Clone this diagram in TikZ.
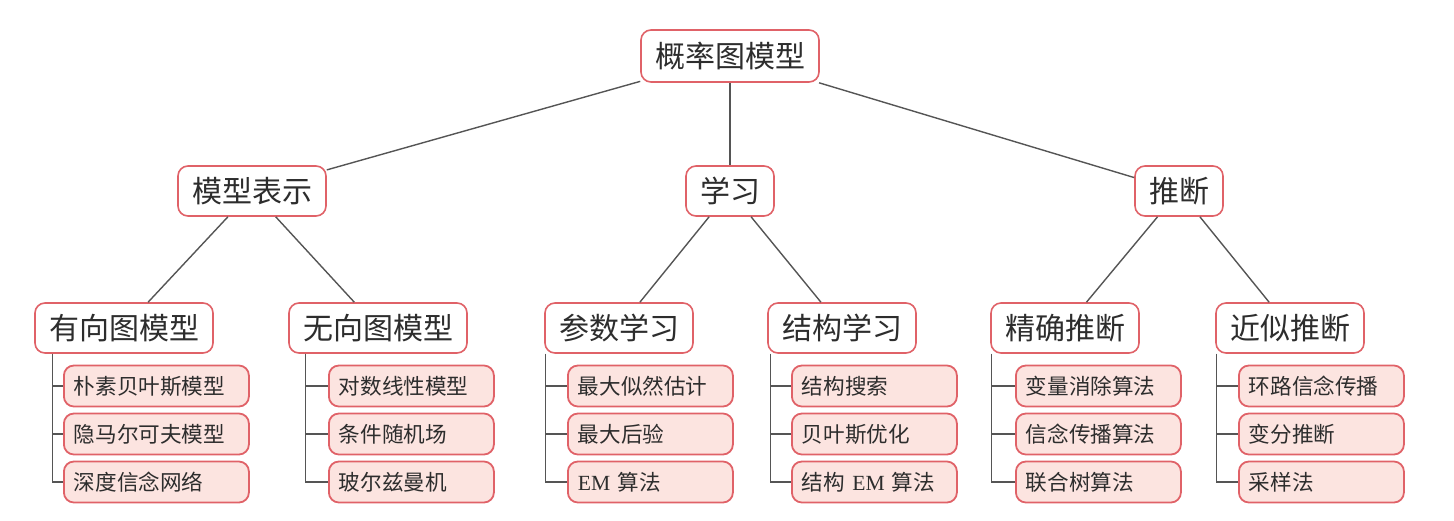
\documentclass[tikz,border=0pt]{standalone}
\usepackage{fontspec}
\newfontfamily\cjk{Noto Sans CJK SC}
\newfontfamily\latin{Liberation Serif}
\usetikzlibrary{positioning}
\definecolor{boxred}{RGB}{224,98,104}
\definecolor{leafpink}{RGB}{252,228,224}
\definecolor{textgray}{RGB}{45,45,45}
\definecolor{linegray}{RGB}{85,85,85}

\begin{document}
\begin{tikzpicture}[x=0.5pt,y=-0.5pt,
  topbox/.style={draw=boxred,line width=0.8pt,fill=white,rounded corners=5pt,inner xsep=7pt,minimum height=25pt,text=textgray,font=\cjk\fontsize{15}{18}\selectfont},
  leaf/.style={draw=boxred,line width=0.9pt,fill=leafpink,rounded corners=5pt,inner xsep=5pt,minimum height=20.5pt,text width=#1,align=left,anchor=west,text=textgray,font=\cjk\fontsize{10.8}{13}\selectfont},
  link/.style={draw=linegray,line width=0.7pt}]
\useasboundingbox (0,0) rectangle (1454,520);

\node[topbox,minimum height=26pt] (root) at (730,56) {概率图模型};
\node[topbox] (rep) at (252,191) {模型表示};
\node[topbox] (learn) at (730,191) {学习};
\node[topbox] (infer) at (1179,191) {推断};

\node[topbox] (dir) at (124,328) {有向图模型};
\node[topbox] (undir) at (378,328) {无向图模型};
\node[topbox] (param) at (619,328) {参数学习};
\node[topbox] (struct) at (842,328) {结构学习};
\node[topbox] (exact) at (1065,328) {精确推断};
\node[topbox] (approx) at (1290,328) {近似推断};

\node[leaf=82.5pt] (d1) at (63,386) {朴素贝叶斯模型};
\node[leaf=82.5pt] (d2) at (63,434) {隐马尔可夫模型};
\node[leaf=82.5pt] (d3) at (63,482) {深度信念网络};
\node[leaf=72.5pt] (u1) at (328,386) {对数线性模型};
\node[leaf=72.5pt] (u2) at (328,434) {条件随机场};
\node[leaf=72.5pt] (u3) at (328,482) {玻尔兹曼机};
\node[leaf=72.5pt] (p1) at (567,386) {最大似然估计};
\node[leaf=72.5pt] (p2) at (567,434) {最大后验};
\node[leaf=72.5pt] (p3) at (567,482) {{\latin EM} 算法};
\node[leaf=72.5pt] (s1) at (791,386) {结构搜索};
\node[leaf=72.5pt] (s2) at (791,434) {贝叶斯优化};
\node[leaf=72.5pt] (s3) at (791,482) {结构 {\latin EM} 算法};
\node[leaf=72.5pt] (e1) at (1015,386) {变量消除算法};
\node[leaf=72.5pt] (e2) at (1015,434) {信念传播算法};
\node[leaf=72.5pt] (e3) at (1015,482) {联合树算法};
\node[leaf=72.5pt] (a1) at (1238,386) {环路信念传播};
\node[leaf=72.5pt] (a2) at (1238,434) {变分推断};
\node[leaf=72.5pt] (a3) at (1238,482) {采样法};

\draw[link] (root) -- (rep);
\draw[link] (root) -- (learn);
\draw[link] (root) -- (infer);
\draw[link] (rep) -- (dir);
\draw[link] (rep) -- (undir);
\draw[link] (learn) -- (param);
\draw[link] (learn) -- (struct);
\draw[link] (infer) -- (exact);
\draw[link] (infer) -- (approx);

\foreach \k in {1,2,3} {
  \draw[link] ([xshift=9pt]dir.south west) |- (d\k.west);
  \draw[link] ([xshift=8.5pt]undir.south west) |- (u\k.west);
  \draw[link] ([xshift=0.5pt]param.south west) |- (p\k.west);
  \draw[link] ([xshift=1.5pt]struct.south west) |- (s\k.west);
  \draw[link] ([xshift=0.5pt]exact.south west) |- (e\k.west);
  \draw[link] ([xshift=0.5pt]approx.south west) |- (a\k.west);
}
\end{tikzpicture}
\end{document}
